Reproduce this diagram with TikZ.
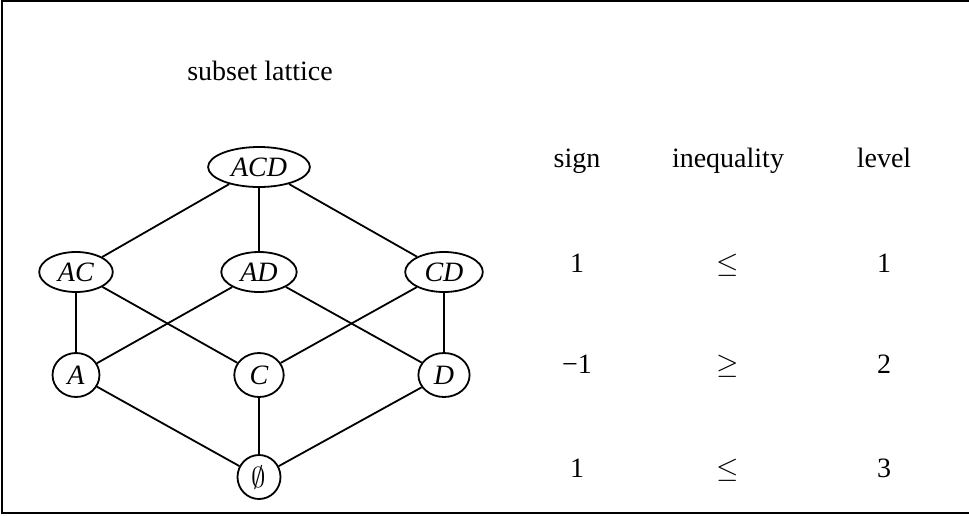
\documentclass[tikz,border=0pt]{standalone}
\usepackage{fontspec}
\setmainfont{Liberation Serif}
\usetikzlibrary{shapes.geometric}

\begin{document}
\begin{tikzpicture}[
  x=0.5pt, y=-0.5pt,
  font=\fontsize{14}{16}\selectfont,
  set/.style={draw, ellipse, line width=.9pt, inner xsep=4pt, inner ysep=0pt,
    minimum height=20pt},
  single/.style={set, minimum height=22pt, minimum width=22pt},
  cell/.style={anchor=base, inner sep=0pt},
  edge/.style={draw, line width=.9pt}
]
  \useasboundingbox (0,0) rectangle (969,515);
  \draw[line width=1pt] (2,1) rectangle (990,513);
  \node[cell] (title) at (260,80) {subset lattice};
  \node[set] (acd) at (259,167) {\textit{ACD}};
  \node[set] (ac) at (76,272) {\textit{AC}};
  \node[set] (ad) at (259,272) {\textit{AD}};
  \node[set] (cd) at (444,272) {\textit{CD}};
  \node[single] (a) at (76,375) {\textit{A}};
  \node[single] (c) at (259,375) {\textit{C}};
  \node[single] (d) at (444,375) {\textit{D}};
  \node[single, minimum width=19pt] (empty) at (259,477) {$\emptyset$};
  \draw[edge] (acd) -- (ac);
  \draw[edge] (acd) -- (ad);
  \draw[edge] (acd) -- (cd);
  \draw[edge] (ac) -- (a);
  \draw[edge] (ac) -- (c);
  \draw[edge] (ad) -- (a);
  \draw[edge] (ad) -- (d);
  \draw[edge] (cd) -- (c);
  \draw[edge] (cd) -- (d);
  \draw[edge] (a) -- (empty);
  \draw[edge] (c) -- (empty);
  \draw[edge] (d) -- (empty);
  \node[cell] (sign) at (577,167) {sign};
  \node[cell] (ineq) at (728,167) {inequality};
  \node[cell] (level) at (884,167) {level};
  \node[cell] (s1) at (577,272) {1};
  \node[cell] (i1) at (728,272) {$\leq$};
  \node[cell] (l1) at (884,272) {1};
  \node[cell] (s2) at (577,373) {−1};
  \node[cell] (i2) at (728,373) {$\geq$};
  \node[cell] (l2) at (884,373) {2};
  \node[cell] (s3) at (577,477) {1};
  \node[cell] (i3) at (728,477) {$\leq$};
  \node[cell] (l3) at (884,477) {3};
\end{tikzpicture}
\end{document}
